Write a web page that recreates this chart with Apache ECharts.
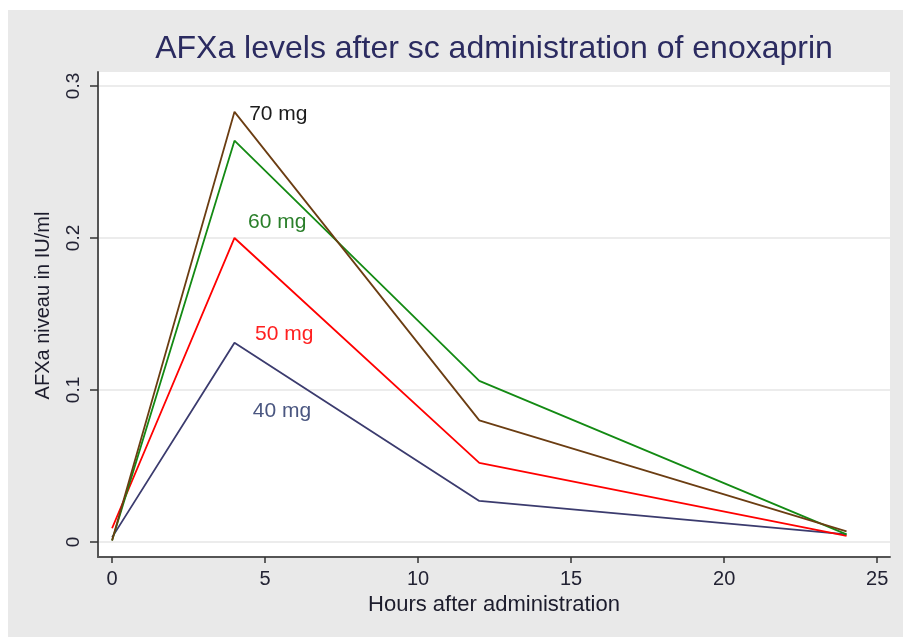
<!DOCTYPE html>
<html>
<head>
<meta charset="utf-8">
<script src="https://cdn.jsdelivr.net/npm/echarts@6/dist/echarts.min.js"></script>
<style>
  html, body { margin: 0; padding: 0; background: #fff; }
  #main { position: absolute; left: 8px; top: 10px; width: 895px; height: 627px; }
</style>
</head>
<body>
<div id="main"></div>
<script>
// hours after administration
const hours = [0, 4, 12, 24];
// AFXa levels (IU/ml) per dose
const dose40 = [0.003, 0.131, 0.027, 0.005];
const dose50 = [0.009, 0.200, 0.052, 0.004];
const dose60 = [0.001, 0.264, 0.106, 0.005];
const dose70 = [0.001, 0.283, 0.080, 0.007];
const doseNames = ['40 mg', '50 mg', '60 mg', '70 mg'];
// where the dose labels sit, in data units [hours, level]
const labelSpots = [[4.6, 0.086], [4.67, 0.137], [4.44, 0.2105], [4.48, 0.2816]];
const xTicks = [0, 5, 10, 15, 20, 25];
const yTicks = [0, 0.1, 0.2, 0.3];

const lineColors = ['#3b3b6e', '#ff0000', '#138a13', '#6b3d12'];
const labelColors = ['#4a5680', '#ff2020', '#2a7f2a', '#1c1c1c'];
const allData = [dose40, dose50, dose60, dose70];
const font = 'Liberation Sans, Arial, sans-serif';

let myChart = echarts.init(document.getElementById('main'));

let series = allData.map(function (vals, i) {
  return {
    name: doseNames[i],
    type: 'line',
    data: hours.map(function (h, j) { return [h, vals[j]]; }),
    symbol: 'none',
    lineStyle: { color: lineColors[i], width: 1.8 },
    z: 3,
    markPoint: {
      symbol: 'circle',
      symbolSize: 0,
      data: [{ coord: labelSpots[i], value: doseNames[i] }],
      label: {
        show: true,
        position: [0, 0],
        align: 'left',
        verticalAlign: 'middle',
        formatter: '{c}',
        color: labelColors[i],
        fontSize: 21,
        fontFamily: font
      }
    }
  };
});

let option = {
  backgroundColor: '#e9e9e9',
  animation: false,
  title: {
    text: 'AFXa levels after sc administration of enoxaprin',
    left: 481,
    top: 18,
    textAlign: 'center',
    textStyle: {
      color: '#2b2b60',
      fontSize: 32,
      fontWeight: 'normal',
      fontFamily: font
    }
  },
  grid: {
    left: 90,
    top: 62,
    right: 13,
    bottom: 80,
    show: true,
    backgroundColor: '#ffffff',
    borderWidth: 0
  },
  xAxis: {
    type: 'value',
    min: -0.46,
    max: 25.42,
    name: 'Hours after administration',
    nameLocation: 'middle',
    nameGap: 33,
    nameTextStyle: { color: '#1c1c2c', fontSize: 22, fontFamily: font },
    axisLine: { show: true, onZero: false, lineStyle: { color: '#555555', width: 2 } },
    axisTick: { show: true, customValues: xTicks, length: 6, lineStyle: { color: '#333333', width: 1.5 } },
    axisLabel: {
      customValues: xTicks,
      margin: 12,
      color: '#222233',
      fontSize: 20,
      fontFamily: font
    },
    splitLine: { show: false }
  },
  yAxis: {
    type: 'value',
    min: -0.0099,
    max: 0.3092,
    name: 'AFXa niveau in IU/ml',
    nameLocation: 'middle',
    nameGap: 45,
    nameTextStyle: { color: '#1c1c2c', fontSize: 20, fontFamily: font, padding: [0, 0, 0, 18] },
    axisLine: { show: true, onZero: false, lineStyle: { color: '#555555', width: 2 } },
    axisTick: { show: true, customValues: yTicks, length: 8, lineStyle: { color: '#333333', width: 1.5 } },
    axisLabel: {
      customValues: yTicks,
      rotate: 90,
      margin: 15,
      color: '#222233',
      fontSize: 19,
      fontFamily: font
    },
    splitLine: { show: true, lineStyle: { color: '#ececec', width: 2 } }
  },
  series: series
};
myChart.setOption(option);
</script>
</body>
</html>
